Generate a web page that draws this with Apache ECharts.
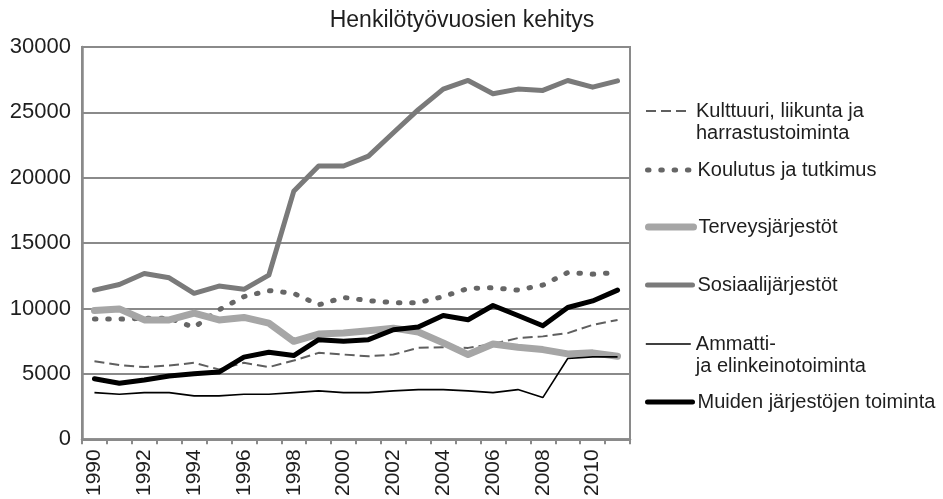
<!DOCTYPE html>
<html>
<head>
<meta charset="utf-8">
<title>Henkilötyövuosien kehitys</title>
<script src="https://cdn.jsdelivr.net/npm/echarts@6/dist/echarts.min.js"></script>
<style>
  html, body { margin: 0; padding: 0; background: #fff; }
  #chart { width: 943px; height: 499px; }
</style>
</head>
<body>
<div id="chart"></div>
<script>
  // vuodet
  var years = ["1990", "1991", "1992", "1993", "1994", "1995", "1996", "1997", "1998", "1999", "2000",
    "2001", "2002", "2003", "2004", "2005", "2006", "2007", "2008", "2009", "2010", "2011"];

  var kulttuuri = [5970, 5670, 5520, 5640, 5850, 5340, 5850, 5520, 6020, 6610, 6480,
    6350, 6480, 6990, 7040, 6990, 7290, 7740, 7870, 8120, 8750, 9130];
  var koulutus = [9190, 9190, 9250, 9260, 8560, 9900, 10910, 11370, 11160, 10280, 10850,
    10600, 10450, 10450, 10910, 11540, 11590, 11410, 11790, 12750, 12630, 12750];
  var terveys = [9850, 9970, 9130, 9130, 9640, 9130, 9320, 8880, 7490, 8050, 8120,
    8300, 8500, 8200, 7370, 6480, 7290, 7040, 6860, 6530, 6610, 6350];
  var sosiaali = [11410, 11840, 12680, 12350, 11160, 11720, 11470, 12550, 18960, 20900, 20900,
    21660, 23440, 25210, 26780, 27440, 26420, 26780, 26680, 27440, 26930, 27410];
  var ammatti = [3570, 3440, 3570, 3570, 3320, 3320, 3440, 3440, 3570, 3700, 3570,
    3570, 3700, 3800, 3800, 3700, 3570, 3800, 3190, 6180, 6300, 6300];
  var muiden = [4630, 4280, 4530, 4840, 5010, 5140, 6280, 6660, 6400, 7620, 7490,
    7620, 8380, 8580, 9470, 9140, 10230, 9470, 8680, 10080, 10580, 11410];

  var yTicks = [0, 5000, 10000, 15000, 20000, 25000, 30000];

  var fontName = "Liberation Sans";
  var textColor = "#1e1e1e";
  var axisGray = "#8a8a8a";

  var myChart = echarts.init(document.getElementById("chart"));

  // sarjat: nimi, data, viivan tyyli, legendan paikka (kuvakkeen keskikohta)
  var seriesDefs = [
    { name: "Kulttuuri, liikunta ja\nharrastustoiminta", data: kulttuuri, legendY: 111, lines: 2,
      lineStyle: { color: "#5f5f5f", width: 2, type: [10, 5] } },
    { name: "Koulutus ja tutkimus", data: koulutus, legendY: 170, lines: 1,
      lineStyle: { color: "#666666", width: 5, type: [1.5, 11.8], cap: "round" } },
    { name: "Terveysjärjestöt", data: terveys, legendY: 227, lines: 1,
      lineStyle: { color: "#a6a6a6", width: 7, cap: "round", join: "round" } },
    { name: "Sosiaalijärjestöt", data: sosiaali, legendY: 285, lines: 1,
      lineStyle: { color: "#7a7a7a", width: 5, cap: "round", join: "round" } },
    { name: "Ammatti-\nja elinkeinotoiminta", data: ammatti, legendY: 344, lines: 2,
      lineStyle: { color: "#000000", width: 1.6 } },
    { name: "Muiden järjestöjen toiminta", data: muiden, legendY: 402, lines: 1,
      lineStyle: { color: "#000000", width: 5, cap: "round", join: "round" } }
  ];

  var lineH = 22;

  var legends = seriesDefs.map(function(s) {
    // kaksirivisissä tyhjä rivi ylös, jotta kuvake osuu ensimmäiselle riville
    var nLines = s.lines === 2 ? 3 : 1;
    var ls = s.lineStyle;
    return {
      data: [s.name],
      left: 645,
      top: s.legendY - (nLines * lineH) / 2,
      padding: 0,
      itemWidth: 45,
      itemHeight: 14,
      itemGap: 5,
      itemStyle: { opacity: 0 },
      lineStyle: {
        color: ls.color,
        width: ls.width,
        type: ls.type || "solid",
        cap: ls.cap || "butt"
      },
      formatter: function(name) {
        return name.indexOf("\n") >= 0 ? "\n" + name : name;
      },
      textStyle: {
        fontFamily: fontName,
        fontSize: 20,
        color: textColor,
        lineHeight: lineH
      }
    };
  });

  var option = {
    backgroundColor: "#fff",
    animation: false,
    title: {
      text: "Henkilötyövuosien kehitys",
      left: 457,
      top: 4,
      textAlign: "center",
      textStyle: {
        fontFamily: fontName,
        fontSize: 23,
        fontWeight: "normal",
        color: textColor
      }
    },
    legend: legends,
    grid: {
      left: 82,
      right: 313,
      top: 47,
      bottom: 57,
      show: true,
      borderColor: axisGray,
      borderWidth: 2
    },
    xAxis: {
      type: "category",
      data: years,
      boundaryGap: true,
      axisLine: { lineStyle: { color: axisGray, width: 2.5 } },
      axisTick: { show: true, interval: 0, length: 5, lineStyle: { color: axisGray, width: 2 } },
      axisLabel: {
        interval: 1,
        rotate: 90,
        margin: 10,
        fontFamily: fontName,
        fontSize: 21,
        color: textColor
      }
    },
    yAxis: {
      type: "value",
      min: yTicks[0],
      max: yTicks[yTicks.length - 1],
      interval: yTicks[1] - yTicks[0],
      axisLine: { show: true, lineStyle: { color: axisGray, width: 2.5 } },
      axisTick: { show: false },
      splitLine: { lineStyle: { color: axisGray, width: 2 } },
      axisLabel: {
        margin: 11,
        fontFamily: fontName,
        fontSize: 22,
        color: textColor,
        formatter: function(v) { return String(v); }
      }
    },
    series: seriesDefs.map(function(s) {
      return {
        name: s.name,
        type: "line",
        data: s.data,
        symbol: "none",
        lineStyle: s.lineStyle,
        itemStyle: { color: s.lineStyle.color }
      };
    })
  };

  myChart.setOption(option);
  window.addEventListener("resize", function() {
    myChart.resize();
  });
</script>
</body>
</html>
